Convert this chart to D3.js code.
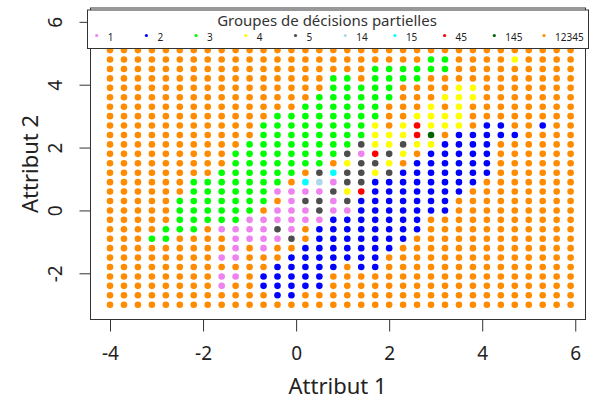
<!DOCTYPE html>
<html>
<head>
<meta charset="utf-8">
<script src="https://cdn.jsdelivr.net/npm/d3@7/dist/d3.min.js"></script>
<style>
  body { margin: 0; background: #fff; }
  svg text { font-family: "Noto Sans", "Liberation Sans", sans-serif; fill: #222; }
</style>
</head>
<body>
<svg id="chart" width="590" height="403"></svg>
<script>
// grid of the prediction (pas de 0.3)
var xVals = [-4, -3.7, -3.4, -3.1, -2.8, -2.5, -2.2, -1.9, -1.6, -1.3,
             -1, -0.7, -0.4, -0.1, 0.2, 0.5, 0.8, 1.1, 1.4, 1.7,
             2, 2.3, 2.6, 2.9, 3.2, 3.5, 3.8, 4.1, 4.4, 4.7,
             5, 5.3, 5.6, 5.9];
var yVals = [-3, -2.7, -2.4, -2.1, -1.8, -1.5, -1.2, -0.9, -0.6, -0.3,
             0, 0.3, 0.6, 0.9, 1.2, 1.5, 1.8, 2.1, 2.4, 2.7,
             3, 3.3, 3.6, 3.9, 4.2, 4.5, 4.8, 5.1];

var groups = ["1", "2", "3", "4", "5", "14", "15", "45", "145", "12345"];
var codes  = ["a", "b", "g", "y", "k", "l", "c", "r", "d", "o"];
var colors = ["#ee82ee", "#0000ff", "#00ff00", "#ffff00", "#4d4d4d",
              "#add8e6", "#00ffff", "#ff0000", "#006400", "#ff8c00"];

// one string per row of yVals (bottom first), one letter per xVals column
var rows = [
  "oooooooooo oooooooooo oooooooooo oooo",
  "oooooooooo oobboooooo oooooooooo oooo",
  "ooooooooao obbbbboooo oooooooooo oooo",
  "ooooooooaa obbbbboooo oooooooooo oooo",
  "oooooooooo oobbbbbobb oooooooooo oooo",
  "ooooooooaa ooobbbbbbb oooooooooo oooo",
  "oooooooooa oaoobbbbbb booooooooo oooo",
  "oooggooooa aaakobbbbb bboooooooo oooo",
  "oooogggoaa aakaobbbbb bbbooooooo oooo",
  "oooooggggg aaaaaabbbb bbbooooooo oooo",
  "oooooggggg goaaakaabb bbbbbooooo oooo",
  "oooooggggg ggoakkakbb bbbbbooooo oooo",
  "oooooogggg ggaaaakyrb bbbbbboooo oooo",
  "oooooogggg gggoclakkb bbbbbbbooo oooo",
  "oooooooogg ggggokckky kbbbbbbboo oooo",
  "ooooooooog ggggggoykk yobbbbbboo oooo",
  "ooooooooog gggggggkar kyobbbbboo oooo",
  "oooooooooo ggggggggky ykyybbbboo oooo",
  "oooooooooo oggggggggy yyrdobbbbb oooo",
  "oooooooooo oggggggggy oyryyyobbo oboo",
  "oooooooooo oogggggggg ooyyyyoooo oooo",
  "oooooooooo oooogggggg oooyoyoooo oooo",
  "oooooooooo oooooggggg goooyyyooo oooo",
  "oooooooooo oooooogggg gooooyyooo oooo",
  "oooooooooo ooooooggog gggooooooo oooo",
  "oooooooooo ooooooooog gggggooooo oooo",
  "oooooooooo oooooooooo oooggooooy oooo",
  "oooooooooo oooooooooo oooooooooo oooo"
];

var xTicks = [-4, -2, 0, 2, 4, 6];
var yTicks = [-2, 0, 2, 4, 6];

var svg = d3.select("#chart");
var x = d3.scaleLinear().domain([-4.43, 6.22]).range([90, 585.5]);
var y = d3.scaleLinear().domain([-3.47, 6.44]).range([319.5, 8]);

var points = [];
rows.forEach(function(r, j) {
  r.replace(/ /g, "").split("").forEach(function(c, i) {
    points.push({ x: xVals[i], y: yVals[j], g: codes.indexOf(c) });
  });
});

svg.append("g")
  .selectAll("circle")
  .data(points)
  .join("circle")
  .attr("cx", function(d) { return x(d.x); })
  .attr("cy", function(d) { return y(d.y); })
  .attr("r", 3.3)
  .attr("fill", function(d) { return colors[d.g]; });

// box
svg.append("rect")
  .attr("x", 90.5).attr("y", 8)
  .attr("width", 495).attr("height", 311.5)
  .attr("fill", "none").attr("stroke", "#333").attr("stroke-width", 1);

// axes
var gx = svg.append("g")
  .attr("transform", "translate(0,319.5)")
  .call(d3.axisBottom(x).tickValues(xTicks).tickSize(12)
    .tickFormat(function(d) { return String(d); }));
gx.select(".domain").remove();
gx.selectAll("line").attr("stroke", "#333");
gx.selectAll("text")
  .attr("y", 40.5).attr("dy", null)
  .style("font-size", "19px");

var gy = svg.append("g")
  .attr("transform", "translate(90.5,0)")
  .call(d3.axisLeft(y).tickValues(yTicks).tickSize(11)
    .tickFormat(function(d) { return String(d); }));
gy.select(".domain").remove();
gy.selectAll("line").attr("stroke", "#333");
gy.selectAll("text")
  .attr("x", 0).attr("dy", null)
  .attr("text-anchor", "middle")
  .attr("transform", "translate(-29,0) rotate(-90)")
  .style("font-size", "19px");

svg.append("text")
  .attr("x", 337.5).attr("y", 394)
  .attr("text-anchor", "middle")
  .style("font-size", "22px")
  .text("Attribut 1");

svg.append("text")
  .attr("transform", "translate(38,164) rotate(-90)")
  .attr("text-anchor", "middle")
  .style("font-size", "22px")
  .text("Attribut 2");

// legend
var leg = svg.append("g");
leg.append("rect")
  .attr("x", 87.5).attr("y", 10)
  .attr("width", 501).attr("height", 38.5)
  .attr("fill", "#fff").attr("stroke", "#333");
leg.append("text")
  .attr("x", 327).attr("y", 25.5)
  .attr("text-anchor", "middle")
  .style("font-size", "15px")
  .style("fill", "#333")
  .text("Groupes de décisions partielles");

var lx = d3.scaleLinear().domain([0, groups.length - 1]).range([96.7, 544]);
var item = leg.selectAll("g.item")
  .data(groups)
  .join("g")
  .attr("class", "item")
  .attr("transform", function(d, i) { return "translate(" + lx(i) + ",35.5)"; });
item.append("circle")
  .attr("r", 1.6)
  .attr("fill", function(d, i) { return colors[i]; });
item.append("text")
  .attr("x", 11).attr("y", 5.5)
  .style("font-size", "10px")
  .text(function(d) { return d; });
</script>
</body>
</html>
